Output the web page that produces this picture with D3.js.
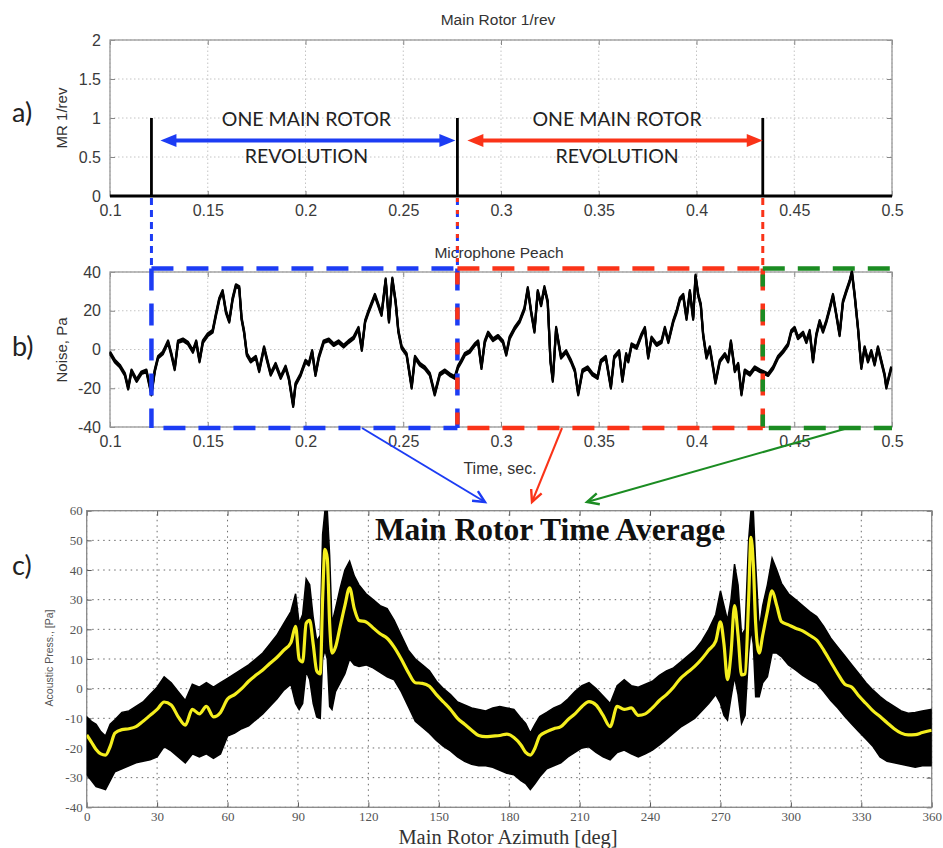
<!DOCTYPE html>
<html>
<head>
<meta charset="utf-8">
<script src="https://cdn.jsdelivr.net/npm/d3@7"></script>
<style>
body { margin: 0; background: #fff; }
</style>
</head>
<body>
<div id="chart"></div>
<script>
// ---- data ----
// a) main rotor 1/rev pulses (sec)
const pulseTimes = [0.1212, 0.2777, 0.4339];

// b) microphone "Peach" noise trace
const micTime = [0.1000,0.1025,0.1050,0.1076,0.1093,0.1110,0.1136,0.1161,0.1186,0.1212,0.1229,0.1246,0.1271,0.1297,0.1314,0.1331,0.1348,0.1373,0.1398,0.1424,
  0.1441,0.1458,0.1475,0.1500,0.1525,0.1542,0.1559,0.1576,0.1593,0.1610,0.1627,0.1644,0.1661,0.1673,0.1686,0.1700,0.1720,0.1746,0.1763,0.1788,
  0.1805,0.1822,0.1847,0.1873,0.1898,0.1915,0.1937,0.1949,0.1975,0.2000,0.2017,0.2034,0.2051,0.2068,0.2093,0.2119,0.2144,0.2169,0.2195,0.2220,
  0.2246,0.2271,0.2288,0.2305,0.2322,0.2355,0.2372,0.2389,0.2410,0.2427,0.2444,0.2461,0.2475,0.2492,0.2517,0.2543,0.2560,0.2585,0.2610,0.2636,
  0.2661,0.2687,0.2713,0.2738,0.2764,0.2780,0.2797,0.2815,0.2840,0.2866,0.2883,0.2900,0.2917,0.2934,0.2959,0.2985,0.3010,0.3027,0.3044,0.3070,
  0.3095,0.3120,0.3137,0.3154,0.3171,0.3188,0.3205,0.3222,0.3239,0.3253,0.3265,0.3282,0.3307,0.3333,0.3358,0.3378,0.3395,0.3417,0.3443,0.3468,
  0.3494,0.3511,0.3536,0.3562,0.3579,0.3604,0.3621,0.3640,0.3651,0.3668,0.3694,0.3719,0.3736,0.3753,0.3770,0.3796,0.3821,0.3838,0.3856,0.3881,
  0.3898,0.3915,0.3932,0.3949,0.3966,0.3983,0.3995,0.4009,0.4022,0.4034,0.4051,0.4068,0.4085,0.4097,0.4119,0.4145,0.4162,0.4176,0.4196,0.4213,
  0.4230,0.4247,0.4273,0.4298,0.4324,0.4346,0.4366,0.4392,0.4417,0.4443,0.4468,0.4485,0.4502,0.4519,0.4545,0.4562,0.4579,0.4596,0.4613,0.4630,
  0.4647,0.4664,0.4681,0.4698,0.4715,0.4732,0.4749,0.4766,0.4783,0.4795,0.4809,0.4826,0.4843,0.4860,0.4877,0.4894,0.4911,0.4928,0.4945,0.4962,
  0.4971,0.4996];
const micNoise = [-1.7,-6,-8.5,-12.8,-20,-11,-16,-12,-11,-23,-11,-4,-1.7,4,-2.5,-10,4,5,3.4,-1,
  4,-6,4,7.6,9.4,18,26,30,19.5,14.5,26,33,32,16,9,-2.5,-6,-4,-11,1,
  -6,-12.8,-7.6,-14.5,-9,-15,-29,-18,-13,-6,-7.6,-1,-13,-4,4,5,2.5,4,1.7,4,
  6,11,0,14.5,19.5,28,23,18,36,14.5,36.5,24.6,9.4,1,-2.5,-19.5,-4,-7.6,-9.4,-12.8,
  -23,-12.8,-11,-13,-14.5,-9,-6,-2.5,-1,2.5,4,-9.4,4,8.5,5,6.8,4,-2.5,6,11,
  14.5,21,31.5,19.5,9.4,30,23,32,24.6,-6,-16,11,-4,-1,-6,-11,-23,-11,-9.4,-12.8,
  -14.5,-6,-4,-19.5,-4,-1,-16,-2.5,-6,2.5,1,7.6,11,-4,6,2.5,4,11,4,14.5,
  19.5,26,28,16,30,16,38,28,23,7.6,-4,1,-9.4,-17,-6,-2.5,-6,4,-11,-7.6,
  -23,-11,-12.8,-9.4,-11,-12,-13,-9.4,-4,-1,2.5,9.4,11,6,8.5,4,9.4,-6,7.6,14.5,
  9.4,14.5,21,28,18,7.6,24.6,30,35,40,28,11,-9.4,1,-6,-1,-7.6,1,-6,-13,
  -19.5,-9.4];

// c) main rotor time average vs azimuth: mean (yellow) and spread of raw data (black)
const azimuth = [0,2,4,6,8,10,12,15,18,21,24,27,30,33,36,39,42,45,48,51,54,57,60,63,66,69,72,75,78,81,84,87,
  89,90.5,92,93.5,95,96.5,98,99.5,100.5,101.5,102.5,103.5,104.5,106,108,110,112,114,116,119,122,125,128,131,134,137,140,143,146,149,152,155,158,161,164,167,170,173,176,179,
  182,185,187,189,191,193,196,199,202,205,208,211,214,217,220,223,226,229,232,235,238,241,244,247,250,253,256,259,262,265,268,
  270,271.5,273,274.5,276,277.5,279,280.5,282,283,284,285,286.5,288,290,292,294,296,299,302,305,308,311,314,317,320,323,326,329,332,335,338,341,344,347,350,353,356,360];
const meanPa = [-15.6,-18,-20.5,-22,-22.4,-19.5,-15,-13.8,-13.5,-12.8,-11,-9,-7,-4.5,-5.5,-9.5,-12.3,-7,-8.5,-6,-9.5,-8,-3.5,-2,0,2.5,4.5,6.3,8.5,10.5,13,15.5,
  21,10,9,22,23,15,6,5,30,47,44,22,12,14,21,28,34,27,23,22.5,20.5,18.5,17,14,10,5.5,2,1.8,0.8,-2,-4.5,-7,-10,-12,-14,-15.8,-16.2,-16,-15.8,-15.3,
  -16.5,-19,-21.5,-22.4,-20,-16,-14.5,-13.5,-12.8,-10.5,-8.5,-6,-4.4,-5.5,-9,-12.8,-6,-7,-6.5,-9,-8.5,-6.5,-4,-2,0.5,3.5,5.5,7.5,10,13,16,
  22.5,15,3,12,28,18,4.6,5,30,51,42,22,12,18,26,33,28,22.6,21.5,20.4,19.5,18,16.4,13,9,5,1.5,0.5,-2.5,-5,-7.5,-9.4,-11.5,-13.5,-15,-15.6,-15.5,-14.8,-14];
const upperPa = [-9.5,-11,-12,-14.5,-16,-12,-10.5,-8,-7.5,-6,-4.5,-2,0.5,4,2,-1,-4,1.5,0.5,2,0.5,2,3.5,5,6.5,8,10,12,15,18,22,26,
  32,22,25,37,35,24,16,18,52,60,60,45,22,27,34,40,43,38,35,32,30,28,27,23,18,13,10,8,6,2.5,0,-2,-4.5,-5.5,-6.5,-7,-7.5,-6.5,-6,-6.5,
  -7,-10,-11.7,-15,-12,-9.4,-8,-6.5,-5.5,-3.5,-1,1,2,0,-2.5,-5,1,3,1,0.5,1.5,2.5,4.5,6,7,9,11,13,16,20,25,
  33,28,23,30,42,35,18,20,50,60,60,42,20,28,35,44,40,35.5,32,30,28,26,24.3,21,17,14,11,8,5,2,-0.5,-2.7,-4.5,-6,-7.5,-8.3,-8,-7.5,-7];
const lowerPa = [-29,-31,-33,-33.5,-34,-31,-28,-27,-26,-25,-24.5,-24,-23,-19.5,-21,-23,-25,-22,-23,-22,-23.5,-22,-16,-15,-13.5,-12.5,-10.5,-8.5,-6,-3.5,-0.5,1.5,
  -5,-7,-5,6,3,-5,-9.5,-10,10,13,10,-6,-7,-1,2,5,10,8,7.5,8,7,5.5,4,3,-1,-6,-11,-13,-15,-17.5,-19.5,-21,-23,-24.5,-25.5,-26,-26,-26.5,-27.5,-28.5,
  -29,-31,-32,-34,-32,-29.7,-27,-26,-25,-23,-21.5,-20,-19.6,-21.5,-23,-24,-21.5,-20.7,-22,-23,-22,-20.7,-19,-17,-15,-13,-11.5,-10,-7.5,-5,-2,
  -5,-9,-10.6,-3,4,-2,-11.7,-9,12,20,15,-2.7,-2.7,2,4,12,12,10.8,8,6.3,4.5,3,1.8,-1,-4,-6.5,-9.4,-12,-14.5,-17,-19.5,-23,-24.5,-25,-25.5,-26,-26.5,-26,-26];

// ticks
const abTicksX = [0.1,0.15,0.2,0.25,0.3,0.35,0.4,0.45,0.5];
const aTicksY = [0,0.5,1,1.5,2];
const bTicksY = [-40,-20,0,20,40];
const cTicksX = [0,30,60,90,120,150,180,210,240,270,300,330,360];
const cTicksY = [-40,-30,-20,-10,0,10,20,30,40,50,60];

const BLUE = "#1c3cf4", RED = "#fa3318", GREEN = "#1b8c22";
const SANS = "'Liberation Sans', Arial, sans-serif";
const SERIF = "'Liberation Serif', 'Times New Roman', serif";
const CAL = "Lato, 'Open Sans', sans-serif";

const svg = d3.select("#chart").append("svg").attr("width", 943).attr("height", 848)
  .style("font-family", SANS);

// scales
const xA = d3.scaleLinear().domain([0.1, 0.5]).range([110, 892]);
const yA = d3.scaleLinear().domain([0, 2]).range([196, 40]);
const xB = xA.copy();
const yB = d3.scaleLinear().domain([-40, 40]).range([427, 272]);
const xC = d3.scaleLinear().domain([0, 360]).range([86.7, 931.7]);
const yC = d3.scaleLinear().domain([-40, 60]).range([807.3, 510.7]);

const fmt = d => String(+d.toFixed(2));

// matlab style frame: grid, box, inward ticks on all sides
function frame(g, x, y, tx, ty, o) {
  const [x0, x1] = x.range(), [y0, y1] = y.range();
  g.selectAll(".gx").data(tx).join("line")
    .attr("x1", d => x(d)).attr("x2", d => x(d)).attr("y1", y0).attr("y2", y1)
    .attr("stroke", o.grid).attr("stroke-dasharray", o.dash).attr("stroke-width", 1);
  g.selectAll(".gy").data(ty).join("line")
    .attr("x1", x0).attr("x2", x1).attr("y1", d => y(d)).attr("y2", d => y(d))
    .attr("stroke", o.grid).attr("stroke-dasharray", o.dash).attr("stroke-width", 1);
  const axes = [
    [d3.axisBottom(x).tickValues(tx).tickFormat(o.fx), `translate(0,${y0})`, true],
    [d3.axisLeft(y).tickValues(ty).tickFormat(o.fy), `translate(${x0},0)`, true],
    [d3.axisTop(x).tickValues(tx).tickFormat(""), `translate(0,${y1})`, false],
    [d3.axisRight(y).tickValues(ty).tickFormat(""), `translate(${x1},0)`, false]
  ];
  axes.forEach(([ax, tr, lab]) => {
    const a = g.append("g").attr("transform", tr)
      .call(ax.tickSizeInner(-5).tickSizeOuter(0).tickPadding(lab ? o.pad : 0));
    a.select(".domain").remove();
    a.selectAll("line").attr("stroke", o.tick);
    a.selectAll("text").attr("fill", o.txt).style("font-size", o.fs + "px").style("font-family", o.ff);
  });
  g.append("rect").attr("x", x0).attr("y", y1).attr("width", x1 - x0).attr("height", y0 - y1)
    .attr("fill", "none").attr("stroke", o.box).attr("stroke-width", 1.3);
}

function label(g, x, y, txt, size, fam, fill, rot) {
  const t = g.append("text").attr("text-anchor", "middle").attr("fill", fill || "#333")
    .style("font-size", size + "px").style("font-family", fam || SANS).text(txt);
  if (rot) t.attr("transform", `translate(${x},${y}) rotate(-90)`);
  else t.attr("x", x).attr("y", y);
  return t;
}

const abStyle = { grid: "#c4c4c4", dash: "1.5,2.5", tick: "#888", box: "#999", fs: 16, txt: "#3a3a3a",
  ff: SANS, pad: 9, fx: fmt, fy: fmt };

// ---------------- panel a ----------------
const gA = svg.append("g");
frame(gA, xA, yA, abTicksX, aTicksY, abStyle);
label(gA, 498, 25, "Main Rotor 1/rev", 15.5);
label(gA, 67, 118, "MR 1/rev", 15, SANS, "#333", true);

const mrSeries = [[0.1, 0]];
pulseTimes.forEach(p => { mrSeries.push([p, 0], [p, 1], [p, 0]); });
mrSeries.push([0.5, 0]);
gA.append("path").datum(mrSeries)
  .attr("d", d3.line().x(d => xA(d[0])).y(d => yA(d[1])))
  .attr("fill", "none").attr("stroke", "#000").attr("stroke-width", 2.8);

// revolution arrows
function dblArrow(g, xa, xb, yy, color) {
  const L = 16, h = 6.5;
  g.append("line").attr("x1", xa + L - 2).attr("x2", xb - L + 2).attr("y1", yy).attr("y2", yy)
    .attr("stroke", color).attr("stroke-width", 4);
  g.append("path").attr("d", `M${xa},${yy}L${xa + L},${yy - h}L${xa + L},${yy + h}Z`).attr("fill", color);
  g.append("path").attr("d", `M${xb},${yy}L${xb - L},${yy - h}L${xb - L},${yy + h}Z`).attr("fill", color);
}
const arrowY = yA(0.71);
dblArrow(gA, xA(pulseTimes[0]) + 9, xA(pulseTimes[1]) - 2, arrowY, BLUE);
dblArrow(gA, xA(pulseTimes[1]) + 10, xA(pulseTimes[2]), arrowY, RED);

[(xA(pulseTimes[0]) + xA(pulseTimes[1])) / 2 + 2, (xA(pulseTimes[1]) + xA(pulseTimes[2])) / 2 + 7].forEach(cx => {
  label(gA, cx, 126, "ONE MAIN ROTOR", 19.5, CAL, "#222");
  label(gA, cx, 163, "REVOLUTION", 19.5, CAL, "#222");
});

// ---------------- panel b ----------------
const gB = svg.append("g");
frame(gB, xB, yB, abTicksX, bTicksY, abStyle);
label(gB, 499, 258, "Microphone Peach", 15.5);
label(gB, 500, 474, "Time, sec.", 16);
label(gB, 67, 350, "Noise, Pa", 15, SANS, "#333", true);

// the trace is drawn thick and doubled to mimic the dense sampled signal
const micLine = d3.line().x(d => xB(d[0])).y(d => yB(d[1]));
[-1.3, 0, 1.3].forEach(dy => {
  gB.append("path").datum(d3.zip(micTime, micNoise)).attr("transform", `translate(0,${dy})`)
    .attr("d", micLine)
    .attr("fill", "none").attr("stroke", "#000").attr("stroke-width", 2.2).attr("stroke-linejoin", "round");
});

// dashed revolution boxes and connectors
const gD = svg.append("g");
const boxTop = yB(40) - 3.5, boxBot = yB(-40) + 1;
const px = pulseTimes.map(p => xA(p));
function seg(x1, y1, x2, y2, color, w, dash, off) {
  gD.append("line").attr("x1", x1).attr("y1", y1).attr("x2", x2).attr("y2", y2)
    .attr("stroke", color).attr("stroke-width", w).attr("stroke-dasharray", dash)
    .attr("stroke-dashoffset", off || 0);
}
// thin dashes between a and b
seg(px[0], yA(0) + 2, px[0], boxTop, BLUE, 3, "7,5");
seg(px[1], yA(0) + 2, px[1], boxTop, BLUE, 3, "7,5");
seg(px[1], yA(0) + 2, px[1], boxTop, RED, 3, "4,8", 0);
seg(px[2], yA(0) + 2, px[2], boxTop, RED, 3, "7,5");
// big dashed boxes
const big = "22,13";
seg(px[0], boxTop, px[1], boxTop, BLUE, 4.5, big);
seg(px[0], boxBot, px[1], boxBot, BLUE, 4.5, big, -12);
seg(px[0], boxTop, px[0], boxBot, BLUE, 4.5, big);
seg(px[1], boxTop, px[1], boxBot, BLUE, 4.5, big);
seg(px[1], boxTop, px[2], boxTop, RED, 4.5, big);
seg(px[1], boxBot, px[2], boxBot, RED, 4.5, big, -10);
seg(px[1], boxTop, px[1], boxBot, RED, 4.5, "12,23", -4);
seg(px[2], boxTop, px[2], boxBot, RED, 4.5, big);
seg(px[2], boxTop, xB(0.5), boxTop, GREEN, 4.5, big);
seg(px[2], boxBot, xB(0.5), boxBot, GREEN, 4.5, big, -6);
seg(px[2], boxTop, px[2], boxBot, GREEN, 4.5, "12,23", -6);

// arrows from each revolution down to the average
function arrow(x1, y1, x2, y2, color) {
  const ang = Math.atan2(y2 - y1, x2 - x1), L = 13, s = 0.45;
  gD.append("line").attr("x1", x1).attr("y1", y1).attr("x2", x2).attr("y2", y2)
    .attr("stroke", color).attr("stroke-width", 2);
  const p = a => [x2 - L * Math.cos(a), y2 - L * Math.sin(a)];
  const [ax, ay] = p(ang - s), [bx, by] = p(ang + s);
  gD.append("path").attr("d", `M${ax},${ay}L${x2},${y2}L${bx},${by}`)
    .attr("fill", "none").attr("stroke", color).attr("stroke-width", 2.4);
}
arrow(xB(0.2289), boxBot, 485, 502, BLUE);
arrow(xB(0.3312), boxBot, 532, 502, RED);
arrow(xB(0.4775), boxBot, 587, 502, GREEN);

// ---------------- panel c ----------------
const gC = svg.append("g");
frame(gC, xC, yC, cTicksX, cTicksY, {
  grid: "#6a6a6a", dash: "1.5,4", tick: "#555", box: "#888", fs: 13, txt: "#555",
  ff: SERIF, pad: 4, fx: d => d, fy: d => d
});
svg.append("clipPath").attr("id", "clipC").append("rect")
  .attr("x", xC(0)).attr("y", yC(60)).attr("width", xC(360) - xC(0)).attr("height", yC(-40) - yC(60));
gC.append("path").datum(d3.zip(azimuth, upperPa, lowerPa)).attr("clip-path", "url(#clipC)")
  .attr("d", d3.area().x(d => xC(d[0])).y0(d => yC(d[2])).y1(d => yC(d[1])))
  .attr("fill", "#000").attr("stroke", "#000").attr("stroke-width", 1.5);
gC.append("path").datum(d3.zip(azimuth, meanPa)).attr("clip-path", "url(#clipC)")
  .attr("d", d3.line().curve(d3.curveMonotoneX).x(d => xC(d[0])).y(d => yC(d[1])))
  .attr("fill", "none").attr("stroke", "#f4ee1e").attr("stroke-width", 3.2).attr("stroke-linejoin", "round");

label(gC, 550, 540, "Main Rotor Time Average", 31.5, SERIF, "#111").style("font-weight", "bold");
label(gC, 508, 844, "Main Rotor Azimuth [deg]", 20.5, SERIF, "#333");
label(gC, 53, 658, "Acoustic Press., [Pa]", 10.5, SANS, "#555", true);

// panel letters
[["a)", 122], ["b)", 356], ["c)", 575]].forEach(([t, y]) => {
  svg.append("text").attr("x", 12).attr("y", y).attr("fill", "#222")
    .style("font-family", CAL).style("font-size", "27px").text(t);
});
</script>
</body>
</html>
